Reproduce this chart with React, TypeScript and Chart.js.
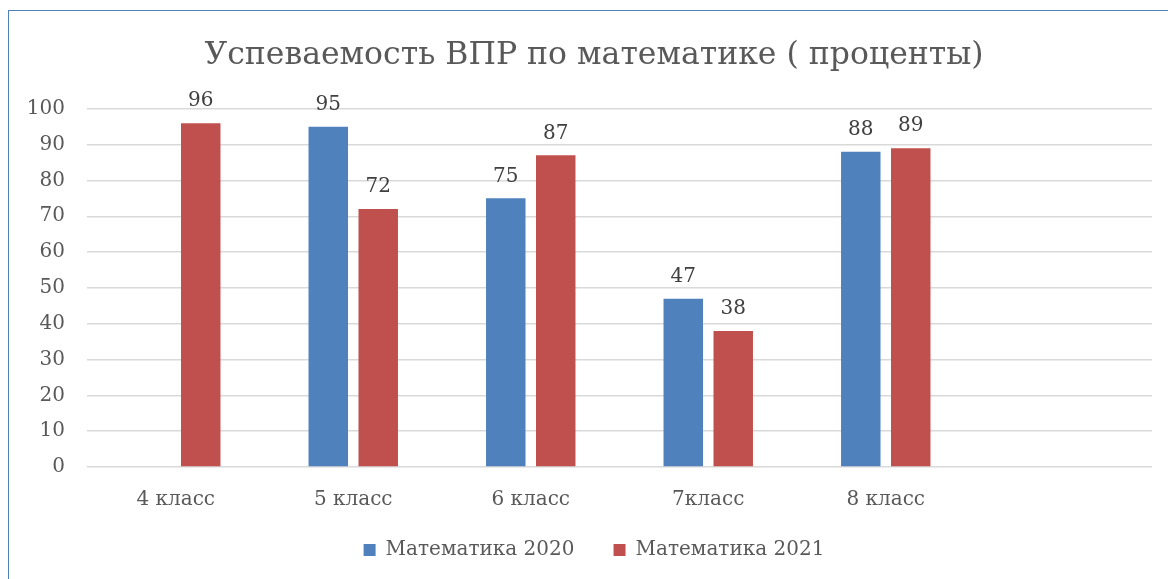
import React, { useEffect, useRef } from "react";
import { Chart, registerables } from "chart.js";

Chart.register(...registerables);

const categories = ["4 класс", "5 класс", "6 класс", "7класс", "8 класс", ""];
const math2020: (number | null)[] = [null, 95, 75, 47, 88, null];
const math2021: (number | null)[] = [96, 72, 87, 38, 89, null];
const seriesNames = ["Математика 2020", "Математика 2021"];
const titleText = "Успеваемость ВПР по математике ( проценты)";
const yMin = 0;
const yMax = 100;
const yStep = 10;

const FONT = "'DejaVu Serif', serif";

const valueLabels = {
  id: "valueLabels",
  afterDatasetsDraw(chart: any) {
    const ctx = chart.ctx;
    ctx.save();
    ctx.font = `20px ${FONT}`;
    ctx.fillStyle = "#404040";
    ctx.textAlign = "center";
    ctx.textBaseline = "middle";
    chart.data.datasets.forEach((ds: any, i: number) => {
      const meta = chart.getDatasetMeta(i);
      meta.data.forEach((bar: any, j: number) => {
        const v = ds.data[j];
        if (v === null || v === undefined) return;
        ctx.fillText(String(v), bar.x, bar.y - 22);
      });
    });
    ctx.restore();
  },
};

export default function App() {
  const ref = useRef<HTMLCanvasElement>(null);
  useEffect(() => {
    if (!ref.current) return;
    const chart = new Chart(ref.current, {
      type: "bar",
      data: {
        labels: categories,
        datasets: [
          {
            label: seriesNames[0],
            data: math2020,
            backgroundColor: "#4F81BD",
            categoryPercentage: 0.563,
            barPercentage: 0.79,
          },
          {
            label: seriesNames[1],
            data: math2021,
            backgroundColor: "#C0504D",
            categoryPercentage: 0.563,
            barPercentage: 0.79,
          },
        ],
      },
      options: {
        animation: false,
        responsive: false,
        maintainAspectRatio: false,
        layout: { padding: { left: 0, right: 0, top: 14, bottom: 19 } },
        plugins: {
          title: {
            display: true,
            text: titleText,
            color: "#595959",
            font: { family: FONT, size: 31.5, weight: "normal" },
            padding: { top: 13, bottom: 34 },
          },
          legend: {
            position: "bottom",
            labels: {
              color: "#595959",
              font: { family: FONT, size: 20 },
              boxWidth: 12,
              boxHeight: 12,
              padding: 20,
              generateLabels(c: any) {
                const items = (Chart.defaults as any).plugins.legend.labels.generateLabels(c);
                if (items.length > 0) items[0].text = items[0].text + "\u00A0\u00A0\u00A0";
                return items;
              },
            },
          },
          tooltip: { enabled: false },
        },
        scales: {
          x: {
            grid: { display: false },
            border: { display: false },
            ticks: {
              color: "#595959",
              font: { family: FONT, size: 20 },
              padding: 13,
              maxRotation: 0,
            },
            afterFit(s: any) {
              s.height = 53;
            },
          },
          y: {
            min: yMin,
            max: yMax,
            grid: { color: "#D9D9D9", lineWidth: 1.5, drawTicks: false },
            border: { display: false },
            ticks: {
              stepSize: yStep,
              color: "#595959",
              font: { family: FONT, size: 20 },
              padding: 22,
            },
            afterFit(s: any) {
              s.width = 79;
            },
          },
          yRightSpace: {
            position: "right",
            min: yMin,
            max: yMax,
            grid: { display: false },
            border: { display: false },
            ticks: { display: false },
            afterFit(s: any) {
              s.width = 28;
            },
          },
        },
      },
      plugins: [valueLabels],
    });
    return () => chart.destroy();
  }, []);
  return (
    <div style={{ position: "fixed", left: 0, top: 0, width: 1168, height: 579, background: "#fff", overflow: "hidden" }}>
      <div
        style={{
          position: "absolute",
          left: 8,
          top: 10,
          width: 1300,
          height: 800,
          borderTop: "1.5px solid #4F81BD",
          borderLeft: "1.5px solid #4F81BD",
        }}
      />
      <canvas ref={ref} width={1172} height={579} style={{ position: "absolute", left: 8, top: 10 }} />
    </div>
  );
}
